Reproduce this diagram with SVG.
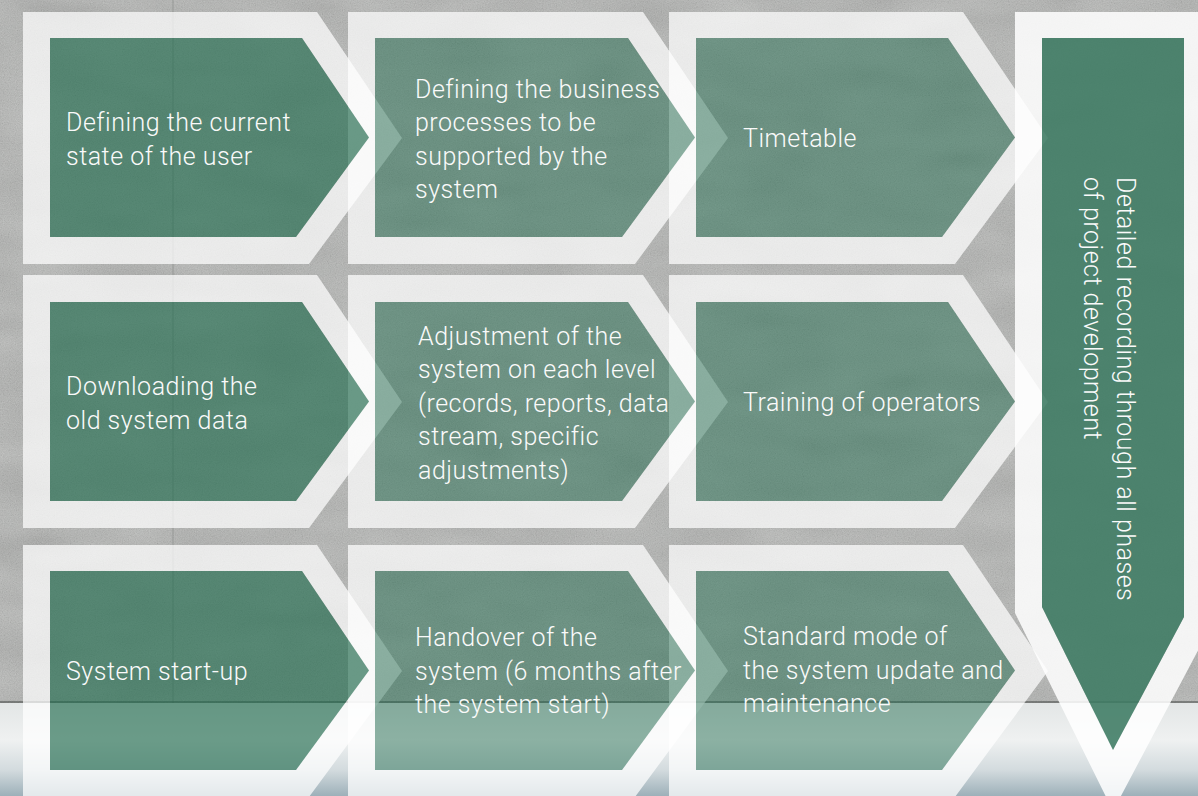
<svg xmlns="http://www.w3.org/2000/svg" width="1198" height="796" viewBox="0 0 1198 796">
  <defs>
    <linearGradient id="floor" x1="0" y1="703" x2="0" y2="796" gradientUnits="userSpaceOnUse">
      <stop offset="0" stop-color="#e3e6e6"/>
      <stop offset="0.4" stop-color="#eff1f1"/>
      <stop offset="0.72" stop-color="#d3dbde"/>
      <stop offset="1" stop-color="#9db0b9"/>
    </linearGradient>
    <filter id="noise" x="0" y="0" width="100%" height="100%">
      <feTurbulence type="fractalNoise" baseFrequency="0.85" numOctaves="3" seed="7"/>
      <feColorMatrix type="matrix" values="0.33 0.33 0.33 0 0  0.33 0.33 0.33 0 0  0.33 0.33 0.33 0 0  0 0 0 0 0.28"/>
    </filter>
    <filter id="patch" x="0" y="0" width="100%" height="100%">
      <feTurbulence type="fractalNoise" baseFrequency="0.012 0.03" numOctaves="2" seed="3"/>
      <feColorMatrix type="matrix" values="0.33 0.33 0.33 0 0  0.33 0.33 0.33 0 0  0.33 0.33 0.33 0 0  0 0 0 0 0.3"/>
    </filter>
    <style>
      .ring { fill: #ffffff; fill-opacity: 0.72; fill-rule: evenodd; }
      .ring4 { fill: #ffffff; fill-opacity: 0.86; fill-rule: evenodd; }
      .gA { fill: #1f6b4d; fill-opacity: 0.64; }
      .gB { fill: #1f6b4d; fill-opacity: 0.48; }
      .gV { fill: #3e7b63; fill-opacity: 0.88; }
      .lbl { font-family: Roboto, "Liberation Sans", sans-serif; font-weight: 300; font-size: 25px; letter-spacing: 0.5px; fill: #fafafa; }
    </style>
  </defs>

  <!-- background -->
  <g id="background">
    <rect x="0" y="0" width="1198" height="796" fill="#acaeab"/>
    <rect x="0" y="0" width="1198" height="703" filter="url(#patch)"/>
    <rect x="0" y="0" width="1198" height="703" filter="url(#noise)"/>
    <rect x="172" y="0" width="2" height="703" fill="#8e918f" fill-opacity="0.4"/>
    <rect x="0" y="703" width="1198" height="93" fill="url(#floor)"/>
    <rect x="0" y="701" width="1198" height="2" fill="#3f4342" fill-opacity="0.5"/>
  </g>

  <!-- white frames -->
  <g id="frames">
    <path class="ring" d="M23,12 H317 L402,138 L309,264 H23 Z M50,38 H302 L369,137.5 L296,237 H50 Z"/>
    <path class="ring" d="M348,12 H643 L728,138 L635,264 H348 Z M375,38 H628 L695,137.5 L622,237 H375 Z"/>
    <path class="ring" d="M669,12 H963 L1048,138 L955,264 H669 Z M696,38 H948 L1015,137.5 L942,237 H696 Z"/>

    <path class="ring" d="M23,275 H317 L402,402 L309,528 H23 Z M50,302 H302 L369,401.5 L296,501 H50 Z"/>
    <path class="ring" d="M348,275 H643 L728,402 L635,528 H348 Z M375,302 H628 L695,401.5 L622,501 H375 Z"/>
    <path class="ring" d="M669,275 H963 L1048,402 L955,528 H669 Z M696,302 H948 L1015,401.5 L942,501 H696 Z"/>

    <path class="ring" d="M23,545 H317 L402,671 L309,797 H23 Z M50,571 H302 L369,670.5 L296,770 H50 Z"/>
    <path class="ring" d="M348,545 H643 L728,671 L635,797 H348 Z M375,571 H628 L695,670.5 L622,770 H375 Z"/>
    <path class="ring" d="M669,545 H963 L1048,671 L955,797 H669 Z M696,571 H948 L1015,670.5 L942,770 H696 Z"/>

    <path class="ring4" d="M1015,12 H1212 V624 L1113,811 L1015,613 Z M1042,38 H1184 V617 L1113,750 L1042,607 Z"/>
  </g>

  <!-- nodes -->
  <g id="n1">
    <path class="gA" d="M50,38 H302 L369,137.5 L296,237 H50 Z"/>
    <text class="lbl" x="66" y="131">Defining the current</text>
    <text class="lbl" x="66" y="164.5">state of the user</text>
  </g>
  <g id="n2">
    <path class="gB" d="M375,38 H628 L695,137.5 L622,237 H375 Z"/>
    <text class="lbl" x="415" y="97.5">Defining the business</text>
    <text class="lbl" x="415" y="131">processes to be</text>
    <text class="lbl" x="415" y="164.5">supported by the</text>
    <text class="lbl" x="415" y="198">system</text>
  </g>
  <g id="n3">
    <path class="gB" d="M696,38 H948 L1015,137.5 L942,237 H696 Z"/>
    <text class="lbl" x="743" y="146.5">Timetable</text>
  </g>

  <g id="n4">
    <path class="gA" d="M50,302 H302 L369,401.5 L296,501 H50 Z"/>
    <text class="lbl" x="66" y="395">Downloading the</text>
    <text class="lbl" x="66" y="428.5">old system data</text>
  </g>
  <g id="n5">
    <path class="gB" d="M375,302 H628 L695,401.5 L622,501 H375 Z"/>
    <text class="lbl" x="418" y="344.5">Adjustment of the</text>
    <text class="lbl" x="418" y="378">system on each level</text>
    <text class="lbl" x="418" y="411.5">(records, reports, data</text>
    <text class="lbl" x="418" y="445">stream, specific</text>
    <text class="lbl" x="418" y="478.5">adjustments)</text>
  </g>
  <g id="n6">
    <path class="gB" d="M696,302 H948 L1015,401.5 L942,501 H696 Z"/>
    <text class="lbl" x="743" y="410.5">Training of operators</text>
  </g>

  <g id="n7">
    <path class="gA" d="M50,571 H302 L369,670.5 L296,770 H50 Z"/>
    <text class="lbl" x="66" y="680">System start-up</text>
  </g>
  <g id="n8">
    <path class="gB" d="M375,571 H628 L695,670.5 L622,770 H375 Z"/>
    <text class="lbl" x="415" y="646">Handover of the</text>
    <text class="lbl" x="415" y="679.5">system (6 months after</text>
    <text class="lbl" x="415" y="713">the system start)</text>
  </g>
  <g id="n9">
    <path class="gB" d="M696,571 H948 L1015,670.5 L942,770 H696 Z"/>
    <text class="lbl" x="743" y="645">Standard mode of</text>
    <text class="lbl" x="743" y="678.5">the system update and</text>
    <text class="lbl" x="743" y="712">maintenance</text>
  </g>

  <g id="n10">
    <path class="gV" d="M1042,38 H1184 V617 L1113,750 L1042,607 Z"/>
    <g transform="translate(1117,177) rotate(90)">
      <text class="lbl" x="0" y="0">Detailed recording  through all phases</text>
      <text class="lbl" x="0" y="33.5">of project development</text>
    </g>
  </g>

  <g id="connectors"></g>
</svg>
